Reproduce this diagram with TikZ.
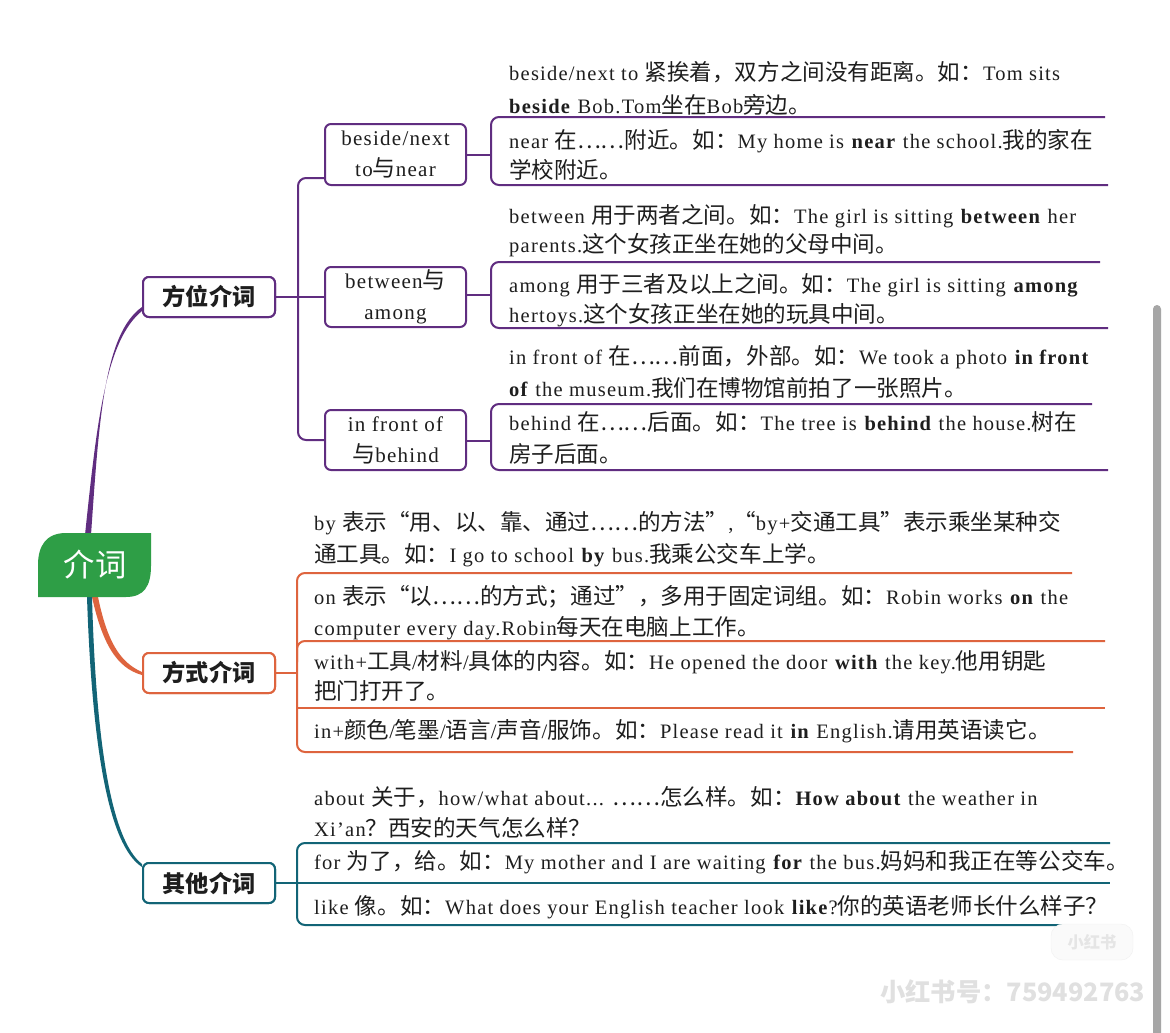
\documentclass[tikz,border=0pt]{standalone}
\usepackage{fontspec}
\usetikzlibrary{calc}
\setmainfont[LetterSpace=6]{Liberation Serif}
\newfontfamily\cjk[Scale=1.10]{Noto Sans CJK SC}
% --- automatic CJK font switching ---
\XeTeXinterchartokenstate=1
\chardef\CJKcls=7
\newcount\cjkcnt
\def\setcls#1#2#3{\cjkcnt=#1\relax
  \loop\XeTeXcharclass\cjkcnt=#3\relax
  \ifnum\cjkcnt<#2\advance\cjkcnt by 1\repeat}
\setcls{"0020}{"2FFF}{0}
\setcls{"3000}{"303F}{\CJKcls}
\setcls{"3400}{"9FFF}{\CJKcls}
\setcls{"FF00}{"FFEF}{\CJKcls}
\XeTeXcharclass"2026=\CJKcls
\XeTeXcharclass"201C=\CJKcls
\XeTeXcharclass"201D=\CJKcls
\XeTeXinterchartoks 0 \CJKcls = {\cjk}
\XeTeXinterchartoks 4095 \CJKcls = {\cjk}
\XeTeXinterchartoks \CJKcls 0 = {\rmfamily}
\XeTeXinterchartoks \CJKcls 4095 = {\rmfamily}
\definecolor{purp}{RGB}{96,45,128}
\definecolor{orng}{RGB}{222,100,62}
\definecolor{tl}{RGB}{18,100,118}
\definecolor{grn}{RGB}{46,158,70}
\definecolor{ink}{RGB}{30,30,30}
\begin{document}
\begin{tikzpicture}[x=1pt,y=-1pt,
  cat/.style={draw, line width=2pt, rounded corners=6pt, fill=white,
    minimum width=132pt, minimum height=40pt, inner sep=0pt, text=ink,
    font=\fontsize{21.1}{26}\selectfont\bfseries},
  sub/.style={draw=purp, line width=2pt, rounded corners=6pt, fill=white,
    minimum width=141pt, minimum height=60pt, inner sep=0pt, align=center, text=ink,
    font=\fontsize{21}{31}\selectfont},
  txt/.style={anchor=base west, inner sep=0pt, text=ink,
    font=\fontsize{20.5}{30}\selectfont},
  brk/.style={line width=2pt, rounded corners=8pt},
  lnk/.style={line width=2pt}]
\useasboundingbox (0,0) rectangle (1170,1033);
\fill[white] (0,0) rectangle (1170,1033);

% category nodes
\node[cat, draw=purp] (fw) at (209,297) {方位介词};
\node[cat, draw=orng] (fs) at (209,673) {方式介词};
\node[cat, draw=tl] (qt) at (209,883) {其他介词};

% curves from root
\fill[purp] (85,535) .. controls (97,420) and (106,340) .. ($(fw.west)+(0,14)$)
  -- ($(fw.west)+(0,10)$) .. controls (104,334) and (99,420) .. (91,535) -- cycle;
\fill[orng] (92,597) .. controls (102,642) and (116,668) .. ($(fs.west)+(0,2)$)
  -- ($(fs.west)+(0,-1)$) .. controls (119,662) and (107,640) .. (98,597) -- cycle;
\fill[tl] (87,597) .. controls (92,745) and (108,845) .. ($(qt.north west)+(0,5)$)
  -- ($(qt.north west)+(0,2)$) .. controls (111,840) and (96,742) .. (92,597) -- cycle;

% root
\fill[grn] (38,597) -- (38,565) .. controls (38,546) and (46,533) .. (66,533)
  -- (151,533) -- (151,566) .. controls (151,586) and (144,597) .. (126,597) -- cycle;
\node[text=white, font=\fontsize{28.5}{28.5}\selectfont] (root) at (95,565) {介词};
\node[cat, draw=purp] at (fw) {方位介词};
\node[cat, draw=orng] at (fs) {方式介词};
\node[cat, draw=tl] at (qt) {其他介词};

% purple sub boxes
\node[sub, minimum height=61pt] (b1) at (395.5,154.5) {beside/next\\to与near};
\node[sub] (b2) at (395.5,297) {between与\\among};
\node[sub] (b3) at (395.5,440) {in front of\\与behind};
\coordinate (j1) at ($(b1.south west)+(0,-8)$);
\coordinate (sp) at (298,297);
\draw[lnk, purp, rounded corners=8pt] (j1) -- (j1 -| sp) -- (b3.west -| sp) -- (b3.west);
\draw[lnk, purp] (fw.east) -- (b2.west);

% purple brackets
\coordinate (k1) at (491,155);
\coordinate (k2) at (491,295);
\coordinate (k3) at (491,441);
\draw[lnk, purp] (b1.east |- k1) -- (k1);
\draw[lnk, purp] (b2.east |- k2) -- (k2);
\draw[lnk, purp] (b3.east |- k3) -- (k3);
\draw[brk, purp] (1105,117) -- (491,117) -- (491,185) -- (1108,185);
\draw[brk, purp] (1100,262) -- (491,262) -- (491,328) -- (1108,328);
\draw[brk, purp] (1092,404) -- (491,404) -- (491,470) -- (1108,470);

% purple texts
\node[txt] (p1a) at (509,81) {beside/next to 紧挨着，双方之间没有距离。如：Tom sits};
\node[txt] (p1b) at (509,113) {\textbf{beside} Bob.Tom坐在Bob旁边。};
\node[txt] (p2a) at (509,148) {near 在……附近。如：My home is \textbf{near} the school.我的家在};
\node[txt] (p2b) at (509,178) {学校附近。};
\node[txt] (p3a) at (509,223) {between 用于两者之间。如：The girl is sitting \textbf{between} her};
\node[txt] (p3b) at (509,252) {parents.这个女孩正坐在她的父母中间。};
\node[txt] (p4a) at (509,292) {among 用于三者及以上之间。如：The girl is sitting \textbf{among}};
\node[txt] (p4b) at (509,322) {hertoys.这个女孩正坐在她的玩具中间。};
\node[txt] (p5a) at (509,364) {in front of 在……前面，外部。如：We took a photo \textbf{in front}};
\node[txt] (p5b) at (509,396) {\textbf{of} the museum.我们在博物馆前拍了一张照片。};
\node[txt] (p6a) at (509,430) {behind 在……后面。如：The tree is \textbf{behind} the house.树在};
\node[txt] (p6b) at (509,462) {房子后面。};

% orange bracket
\coordinate (ko) at (297,673);
\draw[lnk, orng] (fs.east) -- (ko);
\draw[brk, orng] (1072,573) -- (297,573) -- (297,752) -- (1073,752);
\draw[brk, orng] (1105,641) -- (297,641) -- (297,662);
\draw[lnk, orng] (297,708) -- (1105,708);

\node[txt] (o1a) at (314,530) {by 表示“用、以、靠、通过……的方法”,“by+交通工具”表示乘坐某种交};
\node[txt] (o1b) at (314,562) {通工具。如：I go to school \textbf{by} bus.我乘公交车上学。};
\node[txt] (o2a) at (314,604) {on 表示“以……的方式；通过”，多用于固定词组。如：Robin works \textbf{on} the};
\node[txt] (o2b) at (314,635) {computer every day.Robin每天在电脑上工作。};
\node[txt] (o3a) at (314,669) {with+工具/材料/具体的内容。如：He opened the door \textbf{with} the key.他用钥匙};
\node[txt] (o3b) at (314,699) {把门打开了。};
\node[txt] (o4a) at (314,738) {in+颜色/笔墨/语言/声音/服饰。如：Please read it \textbf{in} English.请用英语读它。};

% teal bracket
\coordinate (kq) at (297,883);
\draw[lnk, tl] (qt.east) -- (kq);
\draw[brk, tl] (1110,843) -- (297,843) -- (297,925) -- (1108,925);
\draw[lnk, tl] (kq) -- (1110,883);

\node[txt] (q1a) at (314,805) {about 关于，how/what about... ……怎么样。如：\textbf{How about} the weather in};
\node[txt] (q1b) at (314,836) {Xi’an？西安的天气怎么样？};
\node[txt] (q2) at (314,869) {for 为了，给。如：My mother and I are waiting \textbf{for} the bus.妈妈和我正在等公交车。};
\node[txt] (q3) at (314,914) {like 像。如：What does your English teacher look \textbf{like}?你的英语老师长什么样子？};

% watermark and scrollbar
\node[draw=black!6, fill=black!2, rounded corners=12pt, minimum width=82pt, minimum height=36pt,
  text=black!10, font=\fontsize{14.8}{15}\selectfont\bfseries] (logo) at (1092,942) {小红书};
\node[anchor=west, inner sep=0pt, text=black!12, font=\fontsize{23}{25}\selectfont\bfseries] (wm) at (880,992) {小红书号：{\cjk 759492763}};
\fill[black!35, rounded corners=4pt] (1153,305) rectangle (1161,1045);
\end{tikzpicture}
\end{document}
